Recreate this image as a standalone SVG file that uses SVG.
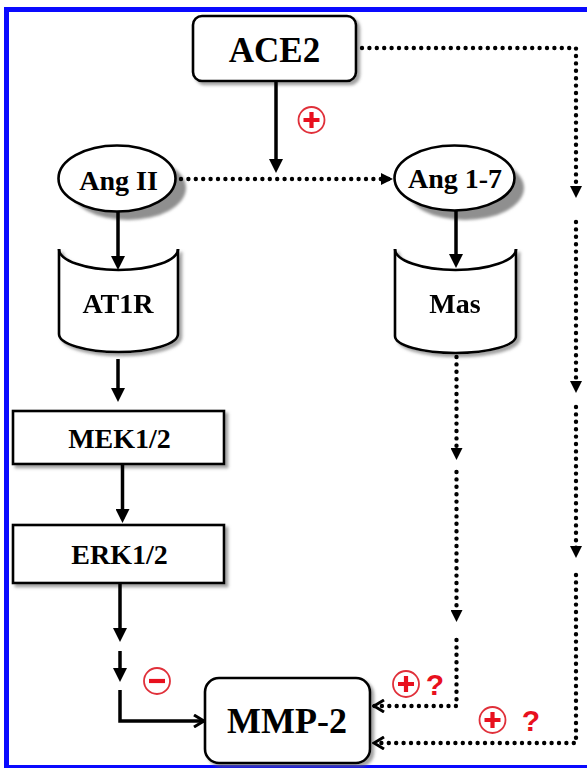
<svg xmlns="http://www.w3.org/2000/svg" xmlns:xlink="http://www.w3.org/1999/xlink" width="587" height="768" viewBox="0 0 587 768">
<style>
.box{fill:#fff;stroke:#000;stroke-width:2.6}
.body{fill:#fff;stroke:none}
.edge{fill:none;stroke:#000;stroke-width:2.6}
.lbl{font-family:"Liberation Serif","Times New Roman",serif;font-weight:bold;fill:#000;text-anchor:middle}
.sol{fill:none;stroke:#000;stroke-width:3.5}
.dot{fill:none;stroke:#000;stroke-width:4.4;stroke-linecap:round;stroke-dasharray:0 7.4}
.q{font-family:"Liberation Sans",Arial,sans-serif;font-weight:bold;font-size:30px;fill:#e8101e;text-anchor:middle}
.shade{fill:#8f8f8f}
</style>
<defs>
<filter id="sh" x="-10%" y="-10%" width="130%" height="130%">
<feDropShadow dx="3" dy="3" stdDeviation="1.5" flood-color="#666" flood-opacity="0.6"/>
</filter>
<filter id="blur" x="-10%" y="-10%" width="130%" height="130%">
<feGaussianBlur stdDeviation="1.5"/>
</filter>
<marker id="ah" viewBox="0 0 14 14" refX="10" refY="7" markerWidth="14" markerHeight="14" markerUnits="userSpaceOnUse" orient="auto">
<path d="M0,0 L14,7 L0,14 z" fill="#000"/>
</marker>
<marker id="ahs" viewBox="0 0 12 12" refX="8" refY="6" markerWidth="12" markerHeight="12" markerUnits="userSpaceOnUse" orient="auto">
<path d="M0,0 L12,6 L0,12 z" fill="#000"/>
</marker>
<marker id="chev" viewBox="0 0 13 14" refX="11" refY="7" markerWidth="13" markerHeight="14" markerUnits="userSpaceOnUse" orient="auto">
<path d="M1,1 L11,7 L1,13" fill="none" stroke="#000" stroke-width="3"/>
</marker>
<g id="plus">
<circle r="13" fill="#fff" stroke="#e0303a" stroke-width="1.8"/>
<path d="M-8,0 H8 M0,-8 V8" stroke="#e8101e" stroke-width="4.2"/>
</g>
<g id="minus">
<circle r="13" fill="#fff" stroke="#e0303a" stroke-width="1.8"/>
<path d="M-8,0 H8" stroke="#e8101e" stroke-width="4.2"/>
</g>
</defs>
<rect width="587" height="768" fill="#fff"/>
<g id="frame" stroke="#0a0aff" fill="none">
<line x1="4" y1="9.5" x2="587" y2="9.5" stroke-width="5"/>
<line x1="6.5" y1="7" x2="6.5" y2="768" stroke-width="5"/>
<line x1="4" y1="766.5" x2="587" y2="766.5" stroke-width="3"/>
</g>
<g id="ace2">
<rect class="box" x="193" y="16" width="163" height="65" rx="9" filter="url(#sh)"/>
<text class="lbl" x="274.5" y="62" font-size="35">ACE2</text>
</g>
<g id="angII">
<ellipse class="shade" cx="128" cy="188" rx="58" ry="32" filter="url(#blur)"/>
<ellipse class="box" cx="117" cy="178.5" rx="58.5" ry="33"/>
<text class="lbl" x="118.5" y="190" font-size="28">Ang II</text>
</g>
<g id="ang17">
<ellipse class="shade" cx="465" cy="188" rx="59" ry="32" filter="url(#blur)"/>
<ellipse class="box" cx="454.5" cy="178" rx="60" ry="32.5"/>
<text class="lbl" x="455" y="188" font-size="28">Ang 1-7</text>
</g>
<g id="at1r" filter="url(#sh)">
<path class="body" d="M59,249 A59.5,21 0 0 0 178,249 V334 A59.5,18 0 0 1 59,334 Z"/>
<path class="edge" d="M59,249 V334 A59.5,18 0 0 0 178,334 V249"/>
<path class="edge" d="M59,249 A59.5,21 0 0 0 178,249"/>
<text class="lbl" x="118" y="313" font-size="28">AT1R</text>
</g>
<g id="mas" filter="url(#sh)">
<path class="body" d="M395,249 A60.5,21 0 0 0 516,249 V336 A60.5,17 0 0 1 395,336 Z"/>
<path class="edge" d="M395,249 V336 A60.5,17 0 0 0 516,336 V249"/>
<path class="edge" d="M395,249 A60.5,21 0 0 0 516,249"/>
<text class="lbl" x="455" y="313" font-size="28">Mas</text>
</g>
<g id="mek">
<rect class="box" x="13" y="411" width="211" height="53" filter="url(#sh)"/>
<text class="lbl" x="119.5" y="448" font-size="28">MEK1/2</text>
</g>
<g id="erk">
<rect class="box" x="13" y="525" width="211" height="58" filter="url(#sh)"/>
<text class="lbl" x="119.5" y="564" font-size="28">ERK1/2</text>
</g>
<g id="mmp2">
<rect class="box" x="205" y="678" width="165" height="85" rx="14" filter="url(#sh)"/>
<text class="lbl" x="287" y="733" font-size="36">MMP-2</text>
</g>
<g id="connectors">
<path class="sol" d="M276,81 V169" marker-end="url(#ah)"/>
<path class="dot" d="M181,179 H389" marker-end="url(#ahs)"/>
<path class="sol" d="M118,212 V266" marker-end="url(#ah)"/>
<path class="sol" d="M456,210.5 V264" marker-end="url(#ah)"/>
<path class="sol" d="M118,359 V398" marker-end="url(#ah)"/>
<path class="sol" d="M122.5,465 V519" marker-end="url(#ah)"/>
<path class="sol" d="M120,584 V638" marker-end="url(#ah)"/>
<path class="sol" d="M120,651 V678" marker-end="url(#ah)"/>
<path class="sol" d="M120,690 V721 H204" marker-end="url(#chev)"/>
<path class="dot" d="M456.5,357 V456" marker-end="url(#ahs)"/>
<path class="dot" d="M456.5,472 V618" marker-end="url(#ahs)"/>
<path class="dot" d="M456.5,640 V706 H374" marker-end="url(#chev)"/>
<path class="dot" d="M362,48 H576 V194" marker-end="url(#ahs)"/>
<path class="dot" d="M576,222 V389" marker-end="url(#ahs)"/>
<path class="dot" d="M576,407 V554" marker-end="url(#ahs)"/>
<path class="dot" d="M576,575 V743 H374" marker-end="url(#chev)"/>
</g>
<g id="signs">
<use xlink:href="#plus" href="#plus" x="311.5" y="120"/>
<use xlink:href="#minus" href="#minus" x="157" y="681"/>
<use xlink:href="#plus" href="#plus" x="406" y="684"/>
<text class="q" x="435" y="695">?</text>
<use xlink:href="#plus" href="#plus" x="492.5" y="720"/>
<text class="q" x="531" y="731">?</text>
</g>
</svg>
